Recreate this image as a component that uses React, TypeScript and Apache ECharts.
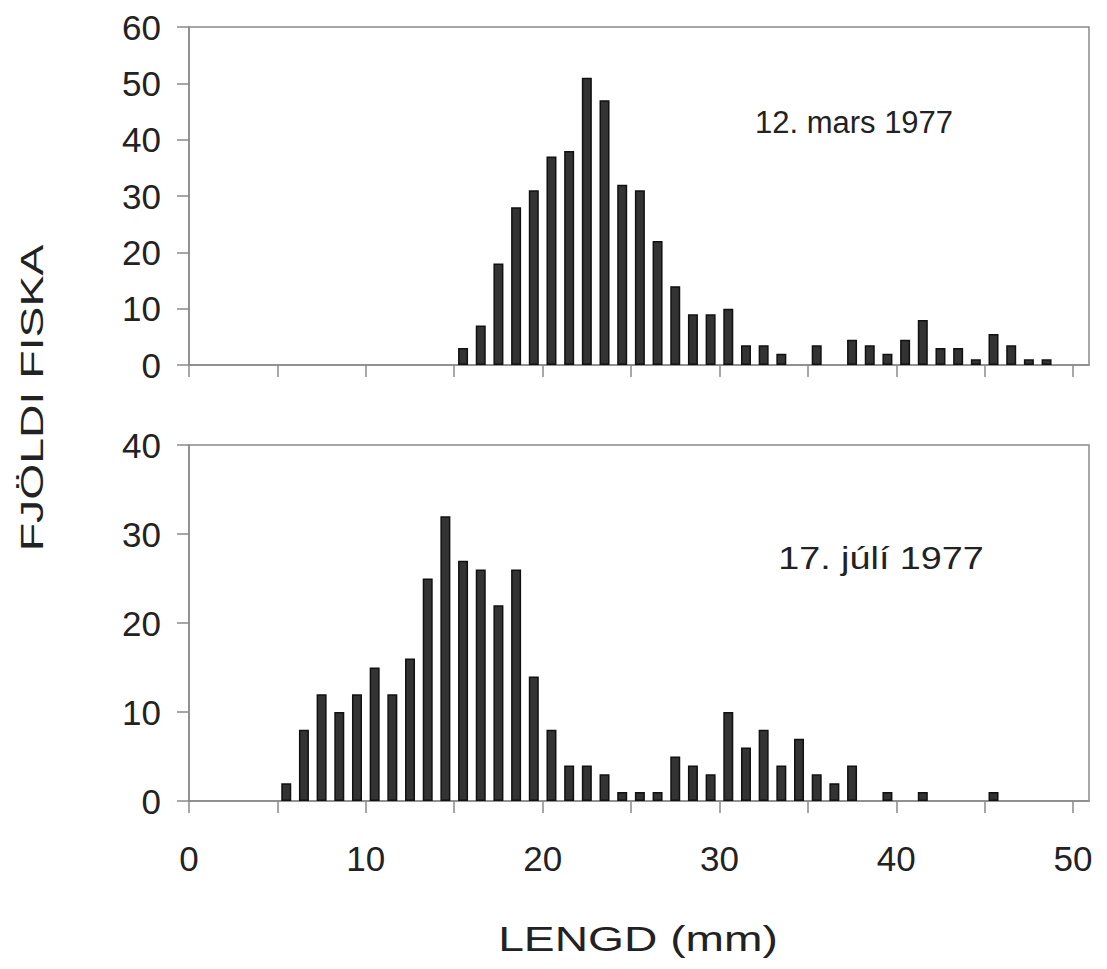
import React, { useEffect, useRef } from "react";
import * as echarts from "echarts";

// Length bins (mm, lower edge) and fish counts
const marchLengths = [15, 16, 17, 18, 19, 20, 21, 22, 23, 24, 25, 26, 27, 28, 29, 30, 31, 32, 33, 34, 35, 36, 37, 38, 39, 40, 41, 42, 43, 44, 45, 46, 47, 48];
const marchCounts = [3, 7, 18, 28, 31, 37, 38, 51, 47, 32, 31, 22, 14, 9, 9, 10, 3.5, 3.5, 2, 0, 3.5, 0, 4.5, 3.5, 2, 4.5, 8, 3, 3, 1, 5.5, 3.5, 1, 1];

const julyLengths = [5, 6, 7, 8, 9, 10, 11, 12, 13, 14, 15, 16, 17, 18, 19, 20, 21, 22, 23, 24, 25, 26, 27, 28, 29, 30, 31, 32, 33, 34, 35, 36, 37, 38, 39, 40, 41, 42, 43, 44, 45];
const julyCounts = [2, 8, 12, 10, 12, 15, 12, 16, 25, 32, 27, 26, 22, 26, 14, 8, 4, 4, 3, 1, 1, 1, 5, 4, 3, 10, 6, 8, 4, 7, 3, 2, 4, 0, 1, 0, 1, 0, 0, 0, 1];

const xTicks = [0, 5, 10, 15, 20, 25, 30, 35, 40, 45, 50];
const xLabels = [0, 10, 20, 30, 40, 50];
const marchYMax = 60;
const julyYMax = 40;

const marchTitle = "12. mars 1977";
const julyTitle = "17. júlí 1977";
const yTitle = "FJÖLDI FISKA";
const xTitle = "LENGD (mm)";

const FONT = "'Liberation Sans', Arial, Helvetica, sans-serif";
const LINE = "#8a8a8a";

export default function App() {
  const ref = useRef<HTMLDivElement>(null);
  useEffect(() => {
    if (!ref.current) return;
    const chart = echarts.init(ref.current, undefined, { renderer: "svg" });
    const toData = (ls: number[], cs: number[]) =>
      ls.map((l, i) => [l + 0.5, cs[i]]).filter((d) => d[1] > 0);
    const xAxisBase = (idx: number, showLabels: boolean) => ({
      type: "value",
      gridIndex: idx,
      min: 0,
      max: 50.9,
      splitLine: { show: false },
      axisLine: { show: true, lineStyle: { color: LINE, width: 1.5 } },
      axisTick: { show: true, inside: false, length: 12, customValues: xTicks, lineStyle: { color: LINE, width: 1.5 } },
      axisLabel: {
        show: showLabels,
        customValues: xLabels,
        margin: 40,
        fontSize: 35,
        fontFamily: FONT,
        color: "#222",
      },
    });
    const yAxisBase = (idx: number, max: number) => ({
      type: "value",
      gridIndex: idx,
      min: 0,
      max,
      interval: 10,
      splitLine: { show: false },
      axisLine: { show: true, lineStyle: { color: LINE, width: 1.5 } },
      axisTick: { show: true, inside: false, length: 12, lineStyle: { color: LINE, width: 1.5 } },
      axisLabel: { margin: 28, fontSize: 35, fontFamily: FONT, color: "#222" },
    });
    const barStyle = { color: "#333", borderColor: "#111", borderWidth: 1.5 };
    chart.setOption({
      animation: false,
      backgroundColor: "#fff",
      grid: [
        { left: 189, top: 27, width: 900, height: 338, show: true, borderColor: LINE, borderWidth: 1.5, backgroundColor: "transparent" },
        { left: 189, top: 445, width: 900, height: 356, show: true, borderColor: LINE, borderWidth: 1.5, backgroundColor: "transparent" },
      ],
      xAxis: [xAxisBase(0, false), xAxisBase(1, true)],
      yAxis: [yAxisBase(0, marchYMax), yAxisBase(1, julyYMax)],
      series: [
        { type: "bar", xAxisIndex: 0, yAxisIndex: 0, barWidth: 10, data: toData(marchLengths, marchCounts), itemStyle: barStyle },
        { type: "bar", xAxisIndex: 1, yAxisIndex: 1, barWidth: 10, data: toData(julyLengths, julyCounts), itemStyle: barStyle },
      ],
      graphic: [
        {
          type: "text", x: 854, y: 122,
          style: { text: marchTitle, fontSize: 31, fontFamily: FONT, fill: "#222", align: "center", verticalAlign: "middle" },
        },
        {
          type: "text", x: 881, y: 558, scaleX: 1.18,
          style: { text: julyTitle, fontSize: 32, fontFamily: FONT, fill: "#222", align: "center", verticalAlign: "middle" },
        },
        {
          type: "text", x: 32, y: 398, rotation: Math.PI / 2, scaleX: 1.45,
          style: { text: yTitle, fontSize: 32, fontFamily: FONT, fill: "#222", align: "center", verticalAlign: "middle" },
        },
        {
          type: "text", x: 638, y: 939, scaleX: 1.32,
          style: { text: xTitle, fontSize: 35, fontFamily: FONT, fill: "#222", align: "center", verticalAlign: "middle" },
        },
      ],
    });
    return () => chart.dispose();
  }, []);
  return <div ref={ref} style={{ position: "fixed", left: 0, top: 0, width: 1107, height: 969 }} />;
}
